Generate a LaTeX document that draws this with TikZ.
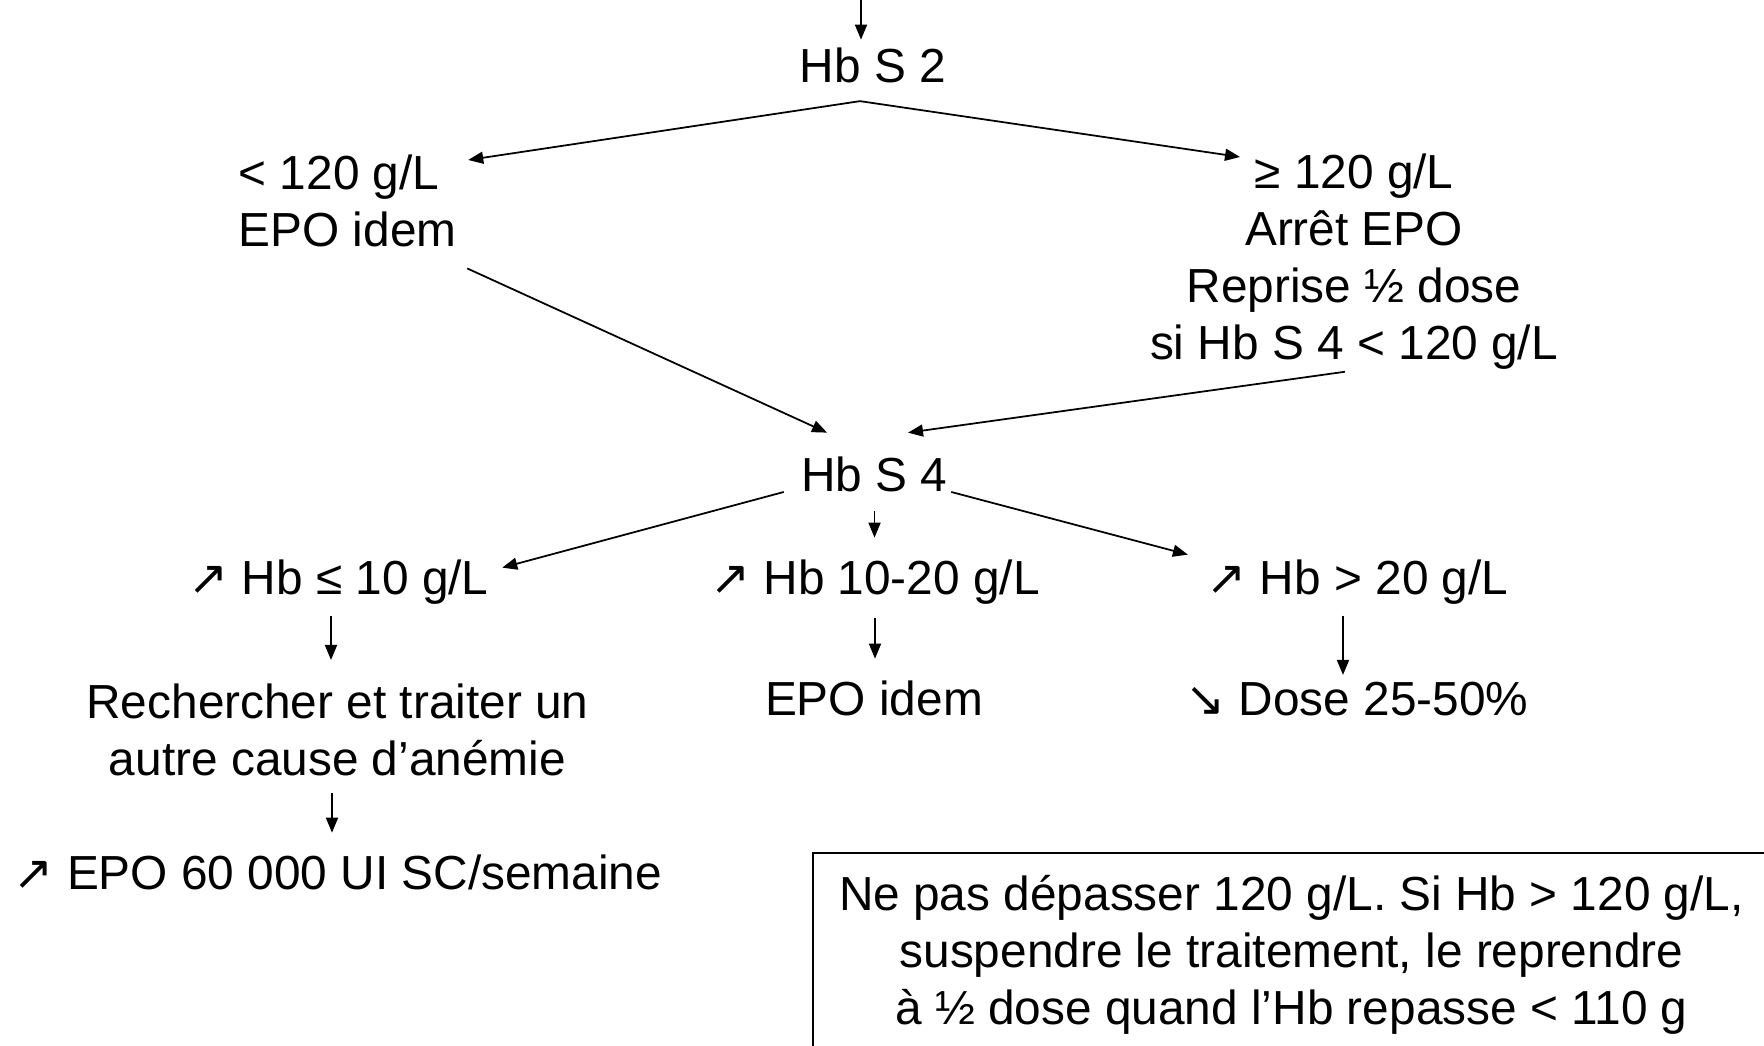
\documentclass[tikz,border=0pt]{standalone}
\usepackage{fontspec}
\setmainfont{Liberation Sans}
\newfontfamily\arrowfont{DejaVu Sans}
\usetikzlibrary{arrows.meta,calc}

\newcommand{\hbup}{{\arrowfont ↗}}
\newcommand{\hbdown}{{\arrowfont ↘}}

\begin{document}
\begin{tikzpicture}[
    txt/.style={inner sep=0pt, font=\fontsize{13.6}{16.2}\selectfont},
    arr/.style={-{Triangle[length=1.5mm,width=1.2mm]}, line width=0.5pt}]
    \useasboundingbox (0,0) rectangle (17.64,10.46);
    % first check
    \node[txt,anchor=base] (hbtwo) at (8.73,9.63) {Hb S 2};
    \node[txt,anchor=north west,align=left] (lt) at (2.38,8.92) {< 120 g/L\\EPO idem};
    \node[txt,anchor=north,align=center] (rt) at (13.54,8.93)
        {≥ 120 g/L\\Arrêt EPO\\Reprise ½ dose\\si Hb S 4 < 120 g/L};
    % second check
    \node[txt,anchor=base] (hbfour) at (8.745,5.54) {Hb S 4};
    \node[txt,anchor=base] (ra) at (3.385,4.51) {\hbup{} Hb ≤ 10 g/L};
    \node[txt,anchor=base] (rb) at (8.75,4.51) {\hbup{} Hb 10-20 g/L};
    \node[txt,anchor=base] (rc) at (13.575,4.51) {\hbup{} Hb > 20 g/L};
    \node[txt,anchor=north,align=center] (da) at (3.375,3.63)
        {Rechercher et traiter un\\autre cause d’anémie};
    \node[txt,anchor=base] (db) at (8.74,3.30) {EPO idem};
    \node[txt,anchor=base] (dc) at (13.57,3.30) {\hbdown{} Dose 25-50\%};
    \node[txt,anchor=base] (epo) at (3.38,1.56) {\hbup{} EPO 60 000 UI SC/semaine};
    % reminder box
    \node[txt,anchor=north west,align=center,draw,line width=0.6pt,inner xsep=0.26cm,inner ysep=0.22cm] (note) at (8.12,1.94)
        {Ne pas dépasser 120 g/L. Si Hb > 120 g/L,\\suspendre le traitement, le reprendre\\à ½ dose quand l’Hb repasse < 110 g};

    % connector ends
    \coordinate (entry) at (8.61,10.46);
    \coordinate (forktwo) at ([shift={(-0.13,-0.17)}]hbtwo.south);
    \coordinate (raout) at ([shift={(-0.075,-0.10)}]ra.south);
    \coordinate (rcout) at ([shift={(-0.145,-0.10)}]rc.south);
    \coordinate (daout) at ([shift={(-0.055,-0.17)}]da.south);
    \draw[arr] (entry) -- ([yshift=0.8mm]entry |- hbtwo.north);
    \draw[arr] (forktwo) -- ([shift={(0.11,-0.06)}]lt.north east);
    \draw[arr] (forktwo) -- ([shift={(-1.14,-0.04)}]rt.north);
    \draw[arr] ([shift={(0.10,-0.21)}]lt.south east) -- ([shift={(-0.475,0.24)}]hbfour.north);
    \draw[arr] ([shift={(-0.09,-0.02)}]rt.south) -- ([shift={(0.335,0.24)}]hbfour.north);
    \draw[arr] ([xshift=-1.7mm]hbfour.base west) -- ([shift={(0.13,-0.08)}]ra.north east);
    \draw[arr] ([xshift=0.3mm]hbfour.base east) -- ([shift={(-0.18,0.05)}]rc.north west);
    \draw[arr] ([yshift=-1.8mm]hbfour.south) -- ([yshift=2.2mm]hbfour.south |- rb.north);
    \draw[arr] (raout) -- ([yshift=2.3mm]raout |- da.north);
    \draw[arr] ([yshift=-1.2mm]rb.south) -- ([yshift=2.2mm]rb.south |- db.north);
    \draw[arr] (rcout) -- ([yshift=0.7mm]rcout |- dc.north);
    \draw[arr] (daout) -- ([yshift=2.2mm]daout |- epo.north);
\end{tikzpicture}
\end{document}
